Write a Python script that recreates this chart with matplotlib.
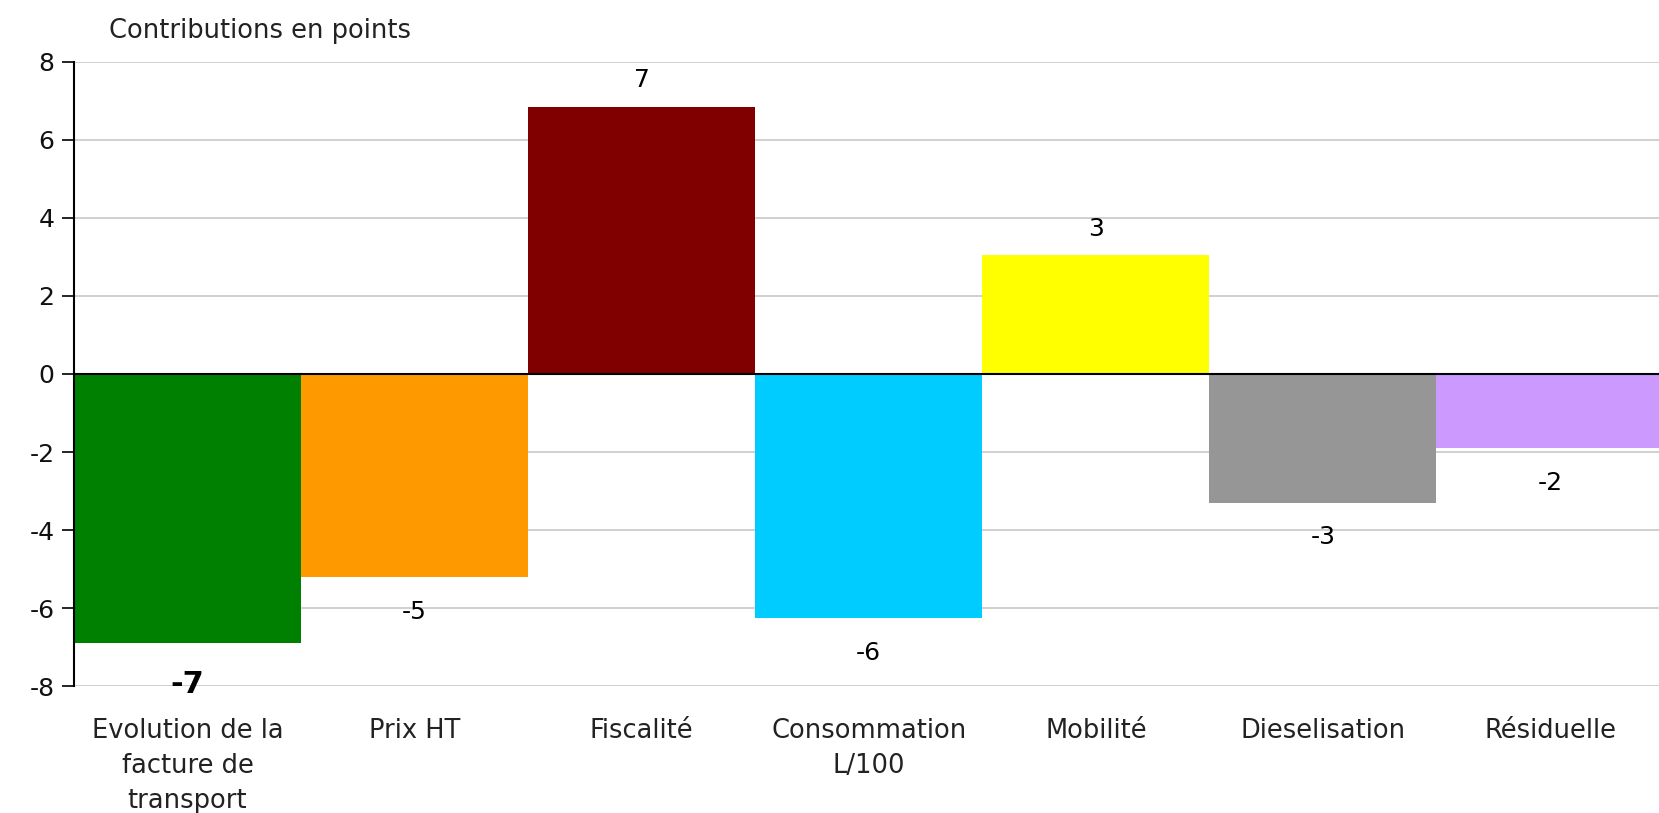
import matplotlib
matplotlib.use('Agg')
import matplotlib.pyplot as plt

# data
categories = ["Evolution de la\nfacture de\ntransport", "Prix HT", "Fiscalité",
              "Consommation\nL/100", "Mobilité", "Dieselisation", "Résiduelle"]
values = [-6.9, -5.2, 6.85, -6.25, 3.05, -3.3, -1.9]
labels = ["-7", "-5", "7", "-6", "3", "-3", "-2"]
colors = ["#008000", "#FF9900", "#800000", "#00CCFF", "#FFFF00", "#969696", "#CC99FF"]
yticks = [-8, -6, -4, -2, 0, 2, 4, 6, 8]

plt.rcParams['font.family'] = ['DejaVu Sans']

fig = plt.figure(figsize=(16.59, 8.13), dpi=100)
ax = fig.add_axes([0.0446, 0.156, 0.9554, 0.768])

x = list(range(len(categories)))
bars = ax.bar(x, values, width=1.0, color=colors, zorder=2)

ax.set_ylim(-8, 8)
ax.set_xlim(-0.5, 6.48)
ax.set_yticks(yticks)
ax.set_yticklabels([str(t) for t in yticks], fontsize=18, color='#111111')
ax.set_xticks(x)
ax.set_xticklabels(categories, fontsize=18.5, color='#222222', linespacing=1.45)
ax.tick_params(axis='x', length=0, pad=23)
ax.tick_params(axis='y', length=9, width=1.2, pad=5, direction='out')

ax.grid(axis='y', color='#c8c8c8', linewidth=1.2, zorder=0)
ax.axhline(0, color='black', linewidth=1.5, zorder=3)
for side in ['top', 'right', 'bottom']:
    ax.spines[side].set_visible(False)
ax.spines['left'].set_linewidth(1.5)
ax.spines['left'].set_zorder(4)

# value labels
for i, (v, lab) in enumerate(zip(values, labels)):
    if i == 0:
        ax.annotate(lab, xy=(i, -8), xytext=(0, 1), textcoords='offset points',
                    ha='center', va='center', fontsize=22, fontweight='bold')
    elif v >= 0:
        ax.annotate(lab, xy=(i, v), xytext=(0, 19), textcoords='offset points',
                    ha='center', va='center', fontsize=18)
    else:
        ax.annotate(lab, xy=(i, v), xytext=(0, -25), textcoords='offset points',
                    ha='center', va='center', fontsize=18)

fig.text(0.0655, 0.962, "Contributions en points", fontsize=18.5, color='#222222',
         ha='left', va='center')

fig.savefig('out.png', dpi=100)
